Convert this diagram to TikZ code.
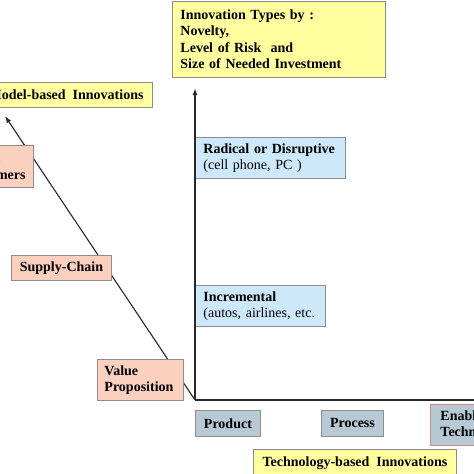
\documentclass[tikz,border=0pt]{standalone}
\usepackage{fontspec}
\setmainfont{Liberation Serif}
\usetikzlibrary{arrows.meta}
\definecolor{ylw}{RGB}{255,255,160}
\definecolor{pnk}{RGB}{251,208,190}
\definecolor{blu}{RGB}{204,232,250}
\definecolor{gry}{RGB}{183,201,212}
\definecolor{boxline}{RGB}{140,140,140}
\definecolor{axis}{RGB}{40,40,40}
\newcommand{\fnt}{\fontsize{14}{16.5}\selectfont}
\tikzset{
  box/.style={draw=boxline, line width=0.9pt, inner xsep=8pt, inner ysep=0pt, font=\fnt\bfseries, align=left},
  ybox/.style={box, fill=ylw},
  pbox/.style={box, fill=pnk},
  bbox/.style={box, fill=blu},
  gbox/.style={box, fill=gry},
  axisline/.style={draw=axis, line width=1.4pt},
  diag/.style={draw=axis, line width=1.1pt, -{Latex[length=7pt,width=5pt]}},
}
\begin{document}
\begin{tikzpicture}[x=1pt,y=-1pt]
\useasboundingbox (0,0) rectangle (474,474);
\clip (0,0) rectangle (474,474);
\fill[white] (0,0) rectangle (474,474);
% axes coordinates
\coordinate (O) at (195,400);
\coordinate (Ytop) at (195,88);
\coordinate (Xend) at (480,400);
\coordinate (Dtip) at (5,116);
% diagonal (under the boxes)
\draw[diag] (O) -- (Dtip);
% boxes
\node[ybox, anchor=north west, minimum width=213pt, minimum height=76pt, text width=197pt] (types) at (172,1)
  {Innovation Types by :\\Novelty,\\Level of Risk\ \ and\\Size of Needed Investment};
\node[ybox, anchor=north east, minimum height=25pt, inner xsep=9pt] (bm) at (153,82)
  {Business Model-based\ \ Innovations};
\node[pbox, anchor=north east, minimum height=42pt] (cust) at (34,145)
  {Target\\Customers};
\node[pbox, anchor=north west, minimum width=100pt, minimum height=25pt, align=center] (supply) at (11,255)
  {Supply-Chain};
\node[pbox, anchor=north west, minimum width=86pt, minimum height=41pt, text width=72pt, inner xsep=7pt] (value) at (97,359)
  {Value\\Proposition};
\node[bbox, anchor=north west, minimum width=150pt, minimum height=41pt, text width=134pt] (radical) at (195,137)
  {Radical or Disruptive\\\mdseries (cell phone, PC )};
\node[bbox, anchor=north west, minimum width=130pt, minimum height=41pt, text width=114pt] (incr) at (195,285)
  {Incremental\\\mdseries (autos, airlines, etc.};
\node[gbox, anchor=north west, minimum width=65pt, minimum height=26pt, align=center, inner xsep=4pt] (product) at (195,410)
  {Product};
\node[gbox, anchor=north west, minimum width=62pt, minimum height=26pt, align=center, inner xsep=4pt] (process) at (321,410)
  {Process};
\node[gbox, draw={rgb,255:red,200;green,140;blue,140}, anchor=north west, minimum height=41pt, inner xsep=10pt] (enab) at (430,404)
  {Enabling\\Technologies};
\node[ybox, anchor=north west, minimum width=203pt, minimum height=28pt, align=center] (tech) at (253,449)
  {Technology-based\ \ Innovations};
% axes (on top)
\draw[axisline, -{Latex[length=7pt,width=5pt]}] (O) -- (Ytop);
\draw[axisline] (O) -- (Xend);
\end{tikzpicture}
\end{document}
